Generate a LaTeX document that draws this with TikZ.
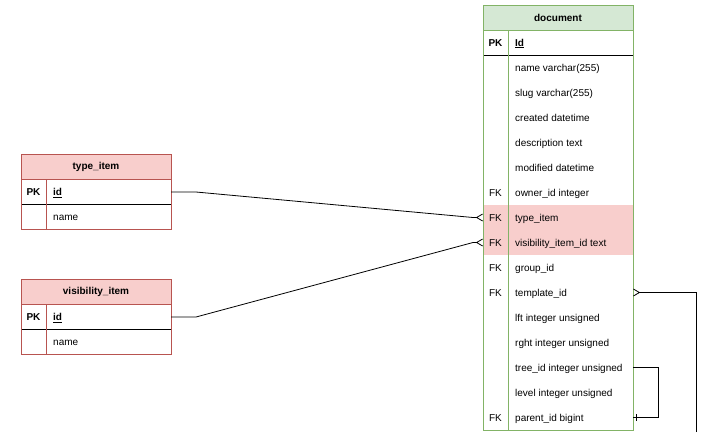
\documentclass[tikz,border=0pt]{standalone}
\usepackage{fontspec}
\setmainfont{Liberation Sans}
\usetikzlibrary{positioning, arrows.meta}

\definecolor{docline}{HTML}{82B366}
\definecolor{docfill}{HTML}{D5E8D4}
\definecolor{itemline}{HTML}{B85450}
\definecolor{itemfill}{HTML}{F8CECC}

\begin{document}
\begin{tikzpicture}[
  x=1pt, y=-1pt,
  font=\fontsize{10}{12}\selectfont,
  tabhead/.style={rectangle, draw, line width=0.8pt, minimum width=150pt, minimum height=25pt, inner sep=0pt, outer sep=0pt, font=\fontsize{10}{12}\selectfont\bfseries},
  greenhead/.style={tabhead, draw=docline, fill=docfill},
  redhead/.style={tabhead, draw=itemline, fill=itemfill},
  row/.style={rectangle, minimum width=150pt, minimum height=25pt, inner sep=0pt, outer sep=0pt},
  field/.style={row, label={[fieldtext]west:#1}},
  fieldtext/.style={anchor=base west, inner sep=0pt, xshift=32pt, yshift=-3.5pt},
  key/.style={label={[keytext]west:#1}},
  keytext/.style={anchor=base, inner sep=0pt, xshift=12.5pt, yshift=-3.5pt},
  rel/.style={draw, line width=0.8pt},
  many/.style={-{Straight Barb[reversed, length=6pt, width=7pt]}}
]
  \useasboundingbox (0,0) rectangle (717,432);

  % Table document
  \node[greenhead] (dochead) at (558,17.5) {document};
  \node[field={\bfseries\underline{Id}}, key={\bfseries PK}, below=0pt of dochead] (dpk) {};
  \node[field=name varchar(255), below=0pt of dpk] (dname) {};
  \node[field=slug varchar(255), below=0pt of dname] (dslug) {};
  \node[field=created datetime, below=0pt of dslug] (dcreated) {};
  \node[field=description text, below=0pt of dcreated] (ddesc) {};
  \node[field=modified datetime, below=0pt of ddesc] (dmod) {};
  \node[field=owner\_id integer, key=FK, below=0pt of dmod] (downer) {};
  \node[field=type\_item, key=FK, fill=itemfill, below=0pt of downer] (dtype) {};
  \node[field=visibility\_item\_id text, key=FK, fill=itemfill, below=0pt of dtype] (dvis) {};
  \node[field=group\_id, key=FK, below=0pt of dvis] (dgroup) {};
  \node[field=template\_id, key=FK, below=0pt of dgroup] (dtmpl) {};
  \node[field=lft integer unsigned, below=0pt of dtmpl] (dlft) {};
  \node[field=rght integer unsigned, below=0pt of dlft] (drght) {};
  \node[field=tree\_id integer unsigned, below=0pt of drght] (dtree) {};
  \node[field=level integer unsigned, below=0pt of dtree] (dlevel) {};
  \node[field=parent\_id bigint, key=FK, below=0pt of dlevel] (dparent) {};
  \draw[line width=0.8pt] (dpk.south west) -- (dpk.south east);
  \draw[docline, line width=0.8pt] ([xshift=25pt]dpk.north west) -- ([xshift=25pt]dparent.south west);
  \draw[docline, line width=0.8pt] (dochead.north west) rectangle (dparent.south east);

  % Table type_item
  \node[redhead] (typehead) at (96,167) {type\_item};
  \node[field={\bfseries\underline{id}}, key={\bfseries PK}, below=0pt of typehead] (tid) {};
  \node[field=name, below=0pt of tid] (tname) {};
  \draw[line width=0.8pt] (tid.south west) -- (tid.south east);
  \draw[itemline, line width=0.8pt] ([xshift=25pt]tid.north west) -- ([xshift=25pt]tname.south west);
  \draw[itemline, line width=0.8pt] (typehead.north west) rectangle (tname.south east);

  % Table visibility_item
  \node[redhead] (vishead) at (96,292) {visibility\_item};
  \node[field={\bfseries\underline{id}}, key={\bfseries PK}, below=0pt of vishead] (vid) {};
  \node[field=name, below=0pt of vid] (vname) {};
  \draw[line width=0.8pt] (vid.south west) -- (vid.south east);
  \draw[itemline, line width=0.8pt] ([xshift=25pt]vid.north west) -- ([xshift=25pt]vname.south west);
  \draw[itemline, line width=0.8pt] (vishead.north west) rectangle (vname.south east);

  % Relations
  \draw[rel, many] (tid.east) -- ++(25,0) -- ([xshift=-10pt]dtype.west) -- (dtype.west);
  \draw[rel, many] (vid.east) -- ++(25,0) -- ([xshift=-10pt]dvis.west) -- (dvis.west);
  \coordinate (tmplend) at (696,432);
  \draw[rel, many] (tmplend) |- (dtmpl.east);
  \draw[rel] (dtree.east) -- ++(25,0) |- (dparent.east);
  \draw[rel] ([xshift=3pt, yshift=3.5pt]dparent.east) -- ([xshift=3pt, yshift=-3.5pt]dparent.east);
\end{tikzpicture}
\end{document}
